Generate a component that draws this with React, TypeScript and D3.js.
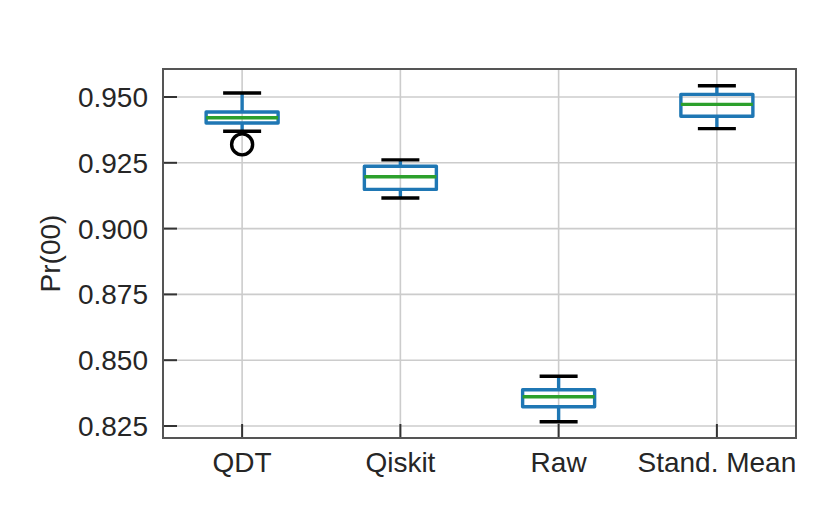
import * as d3 from "d3";

const categories = ["QDT", "Qiskit", "Raw", "Stand. Mean"];
const whiskerLow = [0.937, 0.9116, 0.8266, 0.938];
const q1 = [0.9401, 0.9149, 0.8323, 0.9427];
const median = [0.9421, 0.9197, 0.8361, 0.9472];
const q3 = [0.9443, 0.9237, 0.8388, 0.951];
const whiskerHigh = [0.9515, 0.9261, 0.8439, 0.9543];
const outliers = [[0.932], [], [], []];
const yTicks = [0.825, 0.85, 0.875, 0.9, 0.925, 0.95];

const W = 830;
const H = 512;
const left = 163;
const right = 796;
const top = 69;
const bottom = 438;

const font = "'Liberation Sans', Arial, Helvetica, sans-serif";
const textColor = "#262626";
const fs = 28;

export default function App() {
  const x = d3.scaleLinear().domain([0.5, categories.length + 0.5]).range([left, right]);
  const y = d3.scaleLinear().domain([0.82044, 0.96064]).range([bottom, top]);
  const step = x(2) - x(1);
  const boxW = step * 0.455;
  const capW = boxW / 2 + 2;
  const sw = 3.4;

  return (
    <svg width={W} height={H} style={{ position: "absolute", left: 0, top: 0 }}>
      <rect x={0} y={0} width={W} height={H} fill="#fff" />
      {/* grid */}
      {yTicks.map((t) => (
        <line key={"gy" + t} x1={left} x2={right} y1={y(t)} y2={y(t)} stroke="#cccccc" strokeWidth={1.6} />
      ))}
      {categories.map((c, i) => (
        <line key={"gx" + c} x1={x(i + 1)} x2={x(i + 1)} y1={top} y2={bottom} stroke="#cccccc" strokeWidth={1.6} />
      ))}
      {/* ticks */}
      {yTicks.map((t) => (
        <g key={"ty" + t}>
          <line x1={left} x2={left + 14} y1={y(t)} y2={y(t)} stroke="#333" strokeWidth={2} />
          <text x={148} y={y(t)} dy="0.36em" textAnchor="end" fontFamily={font} fontSize={fs} fill={textColor}>
            {d3.format(".3f")(t)}
          </text>
        </g>
      ))}
      {categories.map((c, i) => (
        <g key={"tx" + c}>
          <line x1={x(i + 1)} x2={x(i + 1)} y1={bottom} y2={bottom - 14} stroke="#333" strokeWidth={2} />
          <text x={x(i + 1)} y={472} textAnchor="middle" fontFamily={font} fontSize={fs} fill={textColor}>
            {c}
          </text>
        </g>
      ))}
      <text
        transform={`translate(60,${(top + bottom) / 2}) rotate(-90)`}
        textAnchor="middle"
        fontFamily={font}
        fontSize={fs}
        fill={textColor}
      >
        Pr(00)
      </text>
      {/* boxes */}
      {categories.map((c, i) => {
        const cx = x(i + 1);
        return (
          <g key={"b" + c}>
            <line x1={cx} x2={cx} y1={y(q3[i])} y2={y(whiskerHigh[i])} stroke="#1f77b4" strokeWidth={sw} />
            <line x1={cx} x2={cx} y1={y(q1[i])} y2={y(whiskerLow[i])} stroke="#1f77b4" strokeWidth={sw} />
            <line x1={cx - capW / 2} x2={cx + capW / 2} y1={y(whiskerHigh[i])} y2={y(whiskerHigh[i])} stroke="#000" strokeWidth={sw} />
            <line x1={cx - capW / 2} x2={cx + capW / 2} y1={y(whiskerLow[i])} y2={y(whiskerLow[i])} stroke="#000" strokeWidth={sw} />
            <rect
              x={cx - boxW / 2}
              y={y(q3[i])}
              width={boxW}
              height={y(q1[i]) - y(q3[i])}
              fill="none"
              stroke="#1f77b4"
              strokeWidth={sw}
              strokeLinejoin="round"
            />
            <line x1={cx - boxW / 2} x2={cx + boxW / 2} y1={y(median[i])} y2={y(median[i])} stroke="#2ca02c" strokeWidth={sw} />
            {outliers[i].map((o, j) => (
              <circle key={j} cx={cx} cy={y(o)} r={10.5} fill="none" stroke="#000" strokeWidth={sw} />
            ))}
          </g>
        );
      })}
      {/* spines */}
      <rect x={left} y={top} width={right - left} height={bottom - top} fill="none" stroke="#555" strokeWidth={2} />
    </svg>
  );
}
